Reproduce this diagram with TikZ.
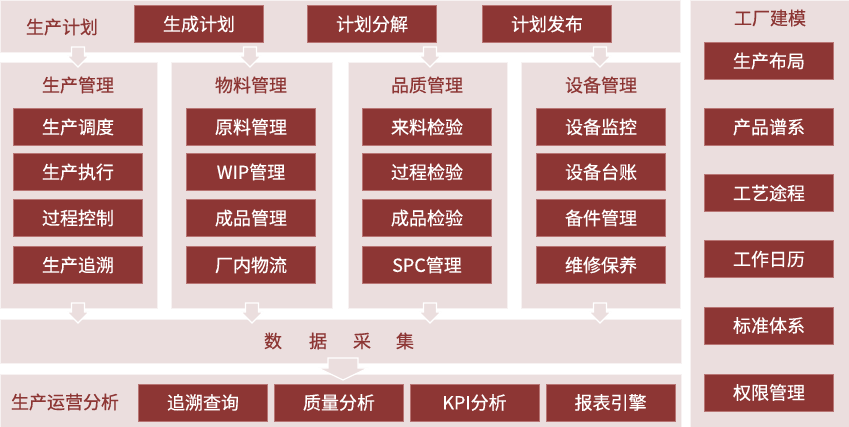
\documentclass[tikz,border=0pt]{standalone}
\usepackage{fontspec}
\setmainfont{Noto Sans CJK SC}[FakeBold=0.4]
\definecolor{panelbg}{HTML}{EBDEDE}
\definecolor{btnred}{HTML}{8D3634}
\definecolor{btnedge}{HTML}{B87574}
\definecolor{lbl}{HTML}{8D3634}
\tikzset{
  panel/.style={fill=panelbg, draw=white!60!panelbg, line width=0.6pt},
  btn/.style={fill=btnred, draw=btnedge, line width=0.6pt, text=white, font=\fontsize{18}{18}\selectfont, minimum width=129pt, minimum height=37pt, inner sep=0pt},
  lab/.style={text=lbl, font=\fontsize{18}{18}\selectfont, inner sep=0pt},
  blockarrow/.style={fill=panelbg, draw=white, line width=1.2pt, line join=miter},
}
\begin{document}
\begin{tikzpicture}[x=1pt,y=-1pt]
\useasboundingbox (0,0) rectangle (849,427);
\fill[white] (0,0) rectangle (849,427);
% panels
\path[panel] (0,0) rectangle (680,52);
\path[panel] (0,62) rectangle (157,308);
\path[panel] (171,62) rectangle (332,308);
\path[panel] (348,62) rectangle (507,308);
\path[panel] (521,62) rectangle (680,308);
\path[panel] (0,319) rectangle (681,363);
\path[panel] (0,374) rectangle (681,427);
\path[panel] (690,0) rectangle (849,427);
% top row
\node[lab] (plan) at (62,27) {生产计划};
\node[btn] (p1) at (199,24) {生成计划};
\node[btn] (p2) at (372,24) {计划分解};
\node[btn] (p3) at (547,24) {计划发布};
% small arrows top
\foreach \x in {78,250,430,600}{
  \draw[blockarrow] (\x-6.5,47) -- (\x+6.5,47) -- (\x+6.5,56) -- (\x+11,56) -- (\x,67) -- (\x-11,56) -- (\x-6.5,56) -- cycle;
}
% column headers
\node[lab] (h1) at (78,85) {生产管理};
\node[lab] (h2) at (251,85) {物料管理};
\node[lab] (h3) at (427,85) {品质管理};
\node[lab] (h4) at (601,85) {设备管理};
% column 1
\node[btn] (c11) at (78,127) {生产调度};
\node[btn] (c12) at (78,172) {生产执行};
\node[btn] (c13) at (78,218) {过程控制};
\node[btn] (c14) at (78,265) {生产追溯};
% column 2
\node[btn] (c21) at (251,127) {原料管理};
\node[btn] (c22) at (251,172) {WIP管理};
\node[btn] (c23) at (251,218) {成品管理};
\node[btn] (c24) at (251,265) {厂内物流};
% column 3
\node[btn] (c31) at (427,127) {来料检验};
\node[btn] (c32) at (427,172) {过程检验};
\node[btn] (c33) at (427,218) {成品检验};
\node[btn] (c34) at (427,265) {SPC管理};
% column 4
\node[btn] (c41) at (601,127) {设备监控};
\node[btn] (c42) at (601,172) {设备台账};
\node[btn] (c43) at (601,218) {备件管理};
\node[btn] (c44) at (601,265) {维修保养};
% small arrows bottom
\foreach \x in {78,252,430,600}{
  \draw[blockarrow] (\x-6.5,303) -- (\x+6.5,303) -- (\x+6.5,312) -- (\x+11,312) -- (\x,323) -- (\x-11,312) -- (\x-6.5,312) -- cycle;
}
% data collection
\node[lab] (d1) at (273,341) {数};
\node[lab] (d2) at (318,341) {据};
\node[lab] (d3) at (362,341) {采};
\node[lab] (d4) at (405,341) {集};
% big arrow
\draw[blockarrow] (328,358) -- (358,358) -- (358,368) -- (368,368) -- (343,380) -- (318,368) -- (328,368) -- cycle;
% bottom row
\node[lab] (ops) at (65,402) {生产运营分析};
\node[btn] (b1) at (203,402.5) {追溯查询};
\node[btn] (b2) at (339,402.5) {质量分析};
\node[btn] (b3) at (474.5,402.5) {KPI分析};
\node[btn] (b4) at (610.5,402.5) {报表引擎};
% right panel
\node[lab] (fac) at (770,18) {工厂建模};
\node[btn] (r1) at (769,61) {生产布局};
\node[btn] (r2) at (769,127) {产品谱系};
\node[btn] (r3) at (769,193) {工艺途程};
\node[btn] (r4) at (769,259) {工作日历};
\node[btn] (r5) at (769,325.5) {标准体系};
\node[btn] (r6) at (769,392.5) {权限管理};
\end{tikzpicture}
\end{document}
